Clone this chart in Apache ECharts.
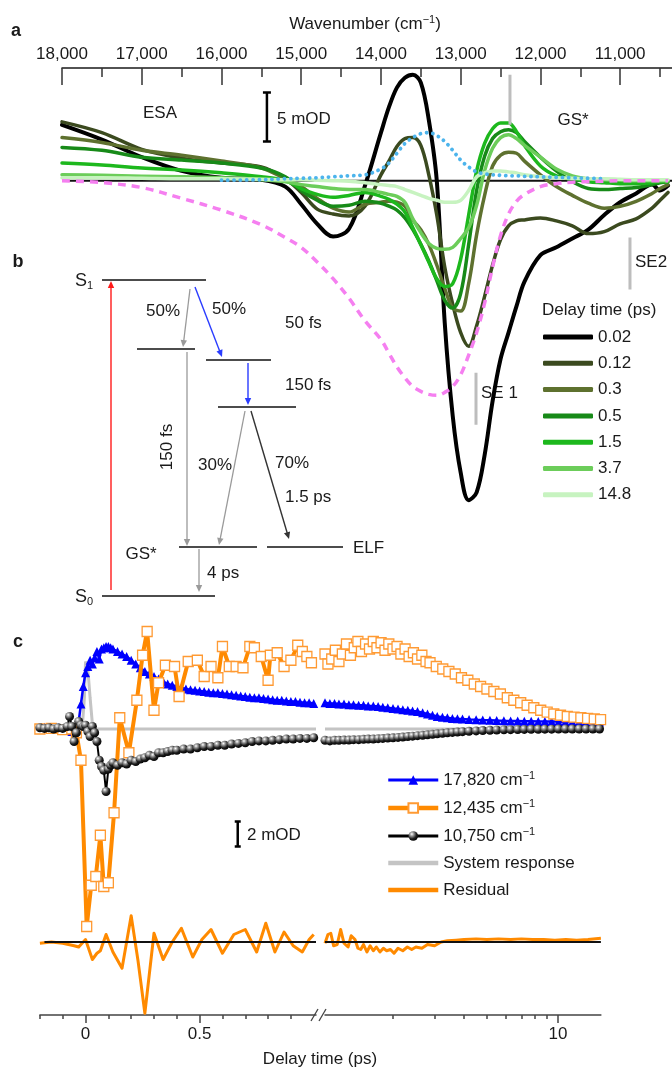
<!DOCTYPE html>
<html>
<head>
<meta charset="utf-8">
<script src="https://cdn.jsdelivr.net/npm/echarts@6/dist/echarts.min.js"></script>
<style>
html,body{margin:0;padding:0;background:#fff}
#chart{width:672px;height:1071px}
</style>
</head>
<body>
<div id="chart"></div>
<script>
// ---------- Panel a: transient spectra vs wavenumber (mOD) ----------
const wavenumbers = [18000,17500,17000,16500,16000,15500,15200,15000,14800,14600,14400,14200,14000,13900,13800,13700,13600,13500,13400,13300,13200,13100,13000,12900,12800,12700,12600,12500,12400,12300,12200,12000,11800,11600,11400,11200,11000,10800,10600,10500,10400];
const delayLabels = ['0.02','0.12','0.3','0.5','1.5','3.7','14.8'];
const spec002 = [5.7,4.2,2.4,1.0,0.3,0.1,-0.6,-2.4,-4.4,-5.7,-4.9,-0.5,4.9,7.5,9.5,10.5,10.8,10.0,6.2,0.0,-14.5,-24.0,-29.8,-32.6,-31.8,-28.0,-22.5,-18.2,-15.5,-12.8,-10.3,-7.6,-6.8,-5.9,-5.0,-3.5,-2.2,-1.3,-0.4,-1.0,-0.5];
const spec012 = [6.0,4.9,3.2,2.3,1.8,1.4,0.2,-1.2,-2.9,-3.4,-3.6,-2.6,0.6,2.0,3.5,4.3,4.4,3.6,0.6,-3.5,-8.8,-12.6,-15.5,-16.9,-14.8,-11.8,-8.6,-6.0,-4.6,-4.1,-4.0,-3.8,-4.1,-4.6,-5.4,-5.2,-4.4,-3.9,-2.8,-2.0,-1.2];
const spec03 = [4.4,3.9,3.1,2.6,2.0,1.3,0.2,-0.6,-1.8,-2.8,-3.2,-2.4,-2.2,-2.1,-2.2,-2.6,-4.0,-5.0,-6.5,-8.6,-11.0,-13.0,-13.3,-10.5,-5.5,-1.5,1.5,2.6,2.9,2.8,2.0,0.6,-0.6,-1.5,-2.3,-2.8,-2.6,-2.1,-1.3,-0.8,-0.4];
const spec05 = [3.4,3.1,2.4,2.1,1.8,1.3,0.4,-1.0,-2.0,-2.6,-2.5,-2.1,-2.3,-2.6,-3.0,-3.8,-5.0,-6.5,-8.2,-10.2,-12.2,-13.0,-11.5,-6.5,-1.0,2.5,4.3,5.0,5.2,4.9,4.0,2.4,1.0,-0.1,-0.8,-0.9,-0.8,-0.7,-0.4,-0.2,-0.1];
const spec15 = [1.8,1.6,1.3,1.1,0.8,0.4,0.0,-0.8,-1.4,-1.7,-1.5,-1.2,-1.6,-1.9,-2.4,-3.2,-4.8,-6.5,-8.3,-10.0,-10.8,-10.5,-8.0,-3.5,1.0,3.8,5.3,5.9,5.9,5.0,3.6,1.5,0.5,0.2,-0.1,-0.2,-0.3,-0.3,-0.2,-0.1,-0.1];
const spec37 = [0.6,0.55,0.45,0.4,0.3,0.1,-0.1,-0.4,-0.6,-0.8,-0.9,-0.9,-1.2,-1.4,-1.6,-2.2,-3.9,-5.3,-6.4,-6.9,-7.0,-6.8,-5.9,-4.8,-2.5,1.0,3.3,4.4,4.7,4.3,3.6,2.4,1.2,0.5,0.2,0.1,0.05,0.0,0.0,0.0,0.0];
const spec148 = [0.3,0.3,0.25,0.2,0.2,0.15,0.1,0.1,0.05,0.0,-0.05,-0.2,-0.4,-0.5,-0.6,-0.9,-1.2,-1.5,-1.8,-2.0,-2.2,-2.2,-2.0,-1.0,0.4,0.8,1.0,1.0,0.9,0.8,0.6,0.4,0.3,0.25,0.2,0.2,0.15,0.1,0.1,0.1,0.1];
const blueRef = [null,null,null,null,0.05,0.1,0.2,0.25,0.3,0.4,0.5,0.6,1.2,1.8,2.8,3.8,4.4,4.8,4.9,4.6,4.0,3.1,2.1,1.4,0.9,0.7,0.6,0.55,0.5,0.5,0.45,0.4,0.35,0.3,0.25,0.2,null,null,null,null,null];
const pinkRef = [0.0,-0.2,-0.7,-1.8,-3.0,-4.5,-5.8,-6.8,-8.3,-10.0,-12.0,-14.3,-16.2,-17.6,-19.0,-20.1,-21.0,-21.5,-21.8,-21.9,-21.6,-21.0,-19.8,-17.8,-15.5,-12.5,-8.8,-5.6,-3.4,-2.1,-1.4,-0.6,-0.3,-0.15,-0.1,-0.05,0.0,0.0,0.0,0.0,0.0];
const majorWn = [11000,12000,13000,14000,15000,16000,17000,18000];
const minorWn = [10500,11500,12500,13500,14500,15500,16500,17500];
// band markers: wavenumber and vertical extent (mOD)
const bandWn = [12382, 12808, 10877];
const bandLo = [5.7, -24.9, -11.1];
const bandHi = [10.8, -19.6, -5.8];
// 5 mOD scale bar
const scaleA = {wn: 15430, from: 4, to: 9};

// ---------- Panel c: kinetic traces (mOD) vs delay (ps) ----------
const blueTL = [-0.2,-0.18,-0.16,-0.14,-0.12,-0.1,-0.08,-0.06,-0.04,-0.03,-0.02,-0.01,0,0.01,0.02,0.03,0.04,0.05,0.06,0.07,0.08,0.09,0.1,0.11,0.12,0.14,0.16,0.18,0.2,0.22,0.24,0.26,0.28,0.3,0.32,0.34,0.36,0.38,0.4,0.42,0.44,0.46,0.48,0.5,0.52,0.54,0.56,0.58,0.6,0.62,0.64,0.66,0.68,0.7,0.72,0.74,0.76,0.78,0.8,0.82,0.84,0.86,0.88,0.9,0.92,0.94,0.96,0.98,1.0];
const blueVL = [0.1,0.15,0.1,0.05,0.1,0.0,-0.1,-0.2,-0.1,0.6,2.0,3.4,4.5,5.0,5.5,5.2,5.7,6.2,5.6,6.4,6.5,6.6,6.6,6.5,6.4,6.2,6.0,5.8,5.5,5.2,4.9,4.6,4.4,4.2,4.0,3.8,3.6,3.5,3.4,3.3,3.2,3.15,3.1,3.05,3.0,2.95,2.9,2.9,2.85,2.8,2.75,2.7,2.65,2.6,2.55,2.5,2.5,2.45,2.4,2.35,2.3,2.3,2.25,2.2,2.2,2.15,2.1,2.1,2.05];
const lateT = [1.03,1.08,1.13,1.18,1.24,1.3,1.36,1.43,1.5,1.57,1.65,1.73,1.81,1.9,2.0,2.1,2.2,2.31,2.42,2.54,2.67,2.8,2.94,3.08,3.24,3.4,3.57,3.75,3.94,4.2,4.5,4.8,5.15,5.5,5.9,6.3,6.75,7.2,7.7,8.25,8.8,9.4,10.05,10.75,11.5,12.3,13.15,14.05,15.0];
const blueVR = [2.1,2.05,2.05,2.0,2.0,1.95,1.95,1.9,1.9,1.85,1.85,1.8,1.75,1.7,1.65,1.6,1.55,1.5,1.45,1.4,1.3,1.2,1.1,1.0,0.95,0.9,0.85,0.82,0.8,0.77,0.74,0.72,0.7,0.68,0.66,0.65,0.64,0.63,0.62,0.61,0.6,0.6,0.59,0.59,0.58,0.58,0.58,0.57,0.57];
const blackTL = [-0.2,-0.18,-0.16,-0.14,-0.12,-0.1,-0.08,-0.07,-0.06,-0.05,-0.04,-0.03,-0.02,-0.01,0,0.01,0.02,0.03,0.04,0.05,0.06,0.07,0.08,0.09,0.1,0.11,0.12,0.14,0.16,0.18,0.2,0.22,0.24,0.26,0.28,0.3,0.32,0.34,0.36,0.38,0.4,0.43,0.46,0.49,0.52,0.55,0.58,0.61,0.64,0.67,0.7,0.73,0.76,0.79,0.82,0.85,0.88,0.91,0.94,0.97,1.0];
const blackVL = [0.1,0.05,0.1,0.0,0.1,0.05,0.2,1.0,0.2,-1.0,-0.3,0.6,0.3,0.2,0.3,-0.2,-0.6,0.2,-0.3,-1.0,-2.5,-3.0,-3.3,-5.0,-3.2,-2.9,-2.7,-2.9,-2.7,-2.8,-2.5,-2.6,-2.4,-2.3,-2.1,-2.2,-1.9,-1.9,-1.8,-1.7,-1.7,-1.6,-1.6,-1.5,-1.4,-1.4,-1.3,-1.3,-1.2,-1.15,-1.1,-1.0,-0.95,-0.95,-0.9,-0.85,-0.8,-0.8,-0.75,-0.75,-0.7];
const blackVR = [-0.9,-0.95,-0.9,-0.9,-0.88,-0.88,-0.85,-0.85,-0.82,-0.8,-0.8,-0.77,-0.75,-0.72,-0.7,-0.67,-0.64,-0.6,-0.57,-0.53,-0.5,-0.46,-0.42,-0.38,-0.34,-0.3,-0.27,-0.24,-0.21,-0.18,-0.15,-0.12,-0.1,-0.08,-0.06,-0.05,-0.04,-0.03,-0.02,-0.02,-0.01,-0.01,0,0,0,0,0,0,0];
const orangeTL = [-0.2,-0.15,-0.1,-0.06,-0.04,-0.02,0.005,0.025,0.045,0.065,0.08,0.1,0.125,0.15,0.19,0.225,0.25,0.27,0.3,0.32,0.35,0.39,0.41,0.45,0.49,0.52,0.55,0.58,0.6,0.63,0.66,0.69,0.72,0.74,0.77,0.8,0.81,0.84,0.87,0.9,0.93,0.95,0.97,0.99];
const orangeVL = [0.0,0.05,-0.05,0.0,-0.3,-2.5,-15.8,-12.5,-11.8,-8.5,-12.6,-12.3,-6.7,0.9,-1.9,2.3,5.9,7.8,1.5,3.7,5.1,5.0,2.6,5.4,5.5,4.2,5.0,4.1,6.6,5.0,5.0,4.9,6.6,6.5,5.8,3.9,5.9,6.1,5.0,5.5,6.7,6.2,5.8,5.3];
const orangeTR = [1.03,1.06,1.1,1.14,1.18,1.22,1.27,1.32,1.37,1.42,1.47,1.53,1.59,1.65,1.71,1.78,1.85,1.92,2.0,2.08,2.16,2.25,2.34,2.44,2.54,2.65,2.76,2.87,3.05,3.25,3.45,3.67,3.9,4.15,4.42,4.7,5.0,5.35,5.7,6.1,6.5,6.95,7.4,7.9,8.45,9.0,9.6,10.25,10.95,11.7,12.5,13.35,14.25,15.15];
const orangeVR = [6.0,5.2,5.6,6.3,5.4,6.0,6.8,5.9,6.5,7.0,6.2,6.8,6.4,7.0,6.5,6.9,6.3,6.8,6.4,6.6,6.0,6.4,5.8,6.1,5.6,5.9,5.4,5.3,5.0,4.8,4.6,4.4,4.1,3.9,3.6,3.4,3.2,3.0,2.8,2.5,2.3,2.1,1.9,1.7,1.5,1.35,1.2,1.1,1.0,0.95,0.9,0.85,0.8,0.75];
const sysTL = [-0.2,-0.015,-0.005,0.0,0.01,0.02,0.03,0.04,1.01];
const sysVL = [0,0,2.5,5.4,4.8,2.5,0.4,0,0];
const sysTR = [1.03,15.2];
const sysVR = [0,0];
const resTL = [-0.2,-0.15,-0.1,-0.05,-0.03,0.0,0.015,0.03,0.05,0.065,0.09,0.12,0.16,0.2,0.23,0.26,0.3,0.34,0.38,0.42,0.47,0.51,0.55,0.6,0.65,0.7,0.75,0.79,0.83,0.87,0.91,0.95,0.98,1.0];
const resVL = [-0.1,0.0,-0.1,-0.3,-0.4,0.2,-0.6,-1.4,-0.9,-0.7,0.6,-0.8,-2.1,2.1,-1.5,-5.7,0.7,-1.4,0.0,1.1,-1.2,0.2,1.0,-0.9,0.6,1.0,-0.8,1.5,-0.8,0.8,-0.3,-0.8,0.2,0.6];
const resTR = [1.03,1.06,1.09,1.12,1.16,1.2,1.24,1.29,1.33,1.38,1.42,1.46,1.5,1.55,1.6,1.65,1.7,1.76,1.82,1.88,1.95,2.02,2.1,2.2,2.3,2.4,2.5,2.65,2.8,3.0,3.2,3.4,3.7,4.0,4.5,5.0,5.6,6.3,7.0,7.8,8.7,9.7,10.8,12.0,13.4,15.2];
const resVR = [-0.1,0.6,0.7,-0.3,-0.2,1.0,-0.1,-0.4,0.5,0.2,-0.5,-0.6,-0.2,-0.8,-0.3,-0.7,-0.4,-0.8,-0.5,-0.7,-0.6,-0.9,-0.5,-0.7,-0.4,-0.6,-0.4,-0.5,-0.2,-0.3,0.0,0.1,0.15,0.2,0.25,0.2,0.25,0.2,0.25,0.2,0.2,0.15,0.2,0.15,0.2,0.3];
const earlyTicks = [-0.2,-0.1,0.1,0.2,0.3,0.4,0.6,0.7,0.8,0.9];
const earlyLabels = [0, 0.5];
const lateTicks = [2,3,4,5,6,7,8,9];
const lateLabels = [10];
// 2 mOD scale bar
const scaleC = {t: 0.667, from: -9.4, to: -7.4};
const traceNames = ['17,820 cm', '12,435 cm', '10,750 cm', 'System response', 'Residual'];

// ---------- helpers ----------
const FONT = '"Liberation Sans", Arial, Helvetica, sans-serif';
const FS = 17;
const INK = '#1a1a1a';
const pair = (xs, ys) => xs.map((x, i) => [x, ys[i]]).filter(p => p[1] !== null && p[1] !== undefined);
const fmtThousands = v => String(v).replace(/\B(?=(\d{3})+(?!\d))/g, ',');

const specValues = [spec002, spec012, spec03, spec05, spec15, spec37, spec148];
const specColors = ['#000000', '#3b4a1f', '#5e712f', '#178a18', '#1db81d', '#6ccd5a', '#c7f3c0'];

const series = [];
// zero line of panel a
series.push({type: 'line', xAxisIndex: 0, yAxisIndex: 0, silent: true, symbol: 'none', z: 1,
  data: [[18000, 0], [10350, 0]], lineStyle: {color: '#111', width: 2}});
delayLabels.forEach((name, i) => {
  series.push({
    name, type: 'line', xAxisIndex: 0, yAxisIndex: 0, symbol: 'none', smooth: 0.35,
    color: specColors[i], z: 2 + i,
    data: pair(wavenumbers, specValues[i]),
    lineStyle: {color: specColors[i], width: i === 0 ? 4 : 3.5, cap: 'round', join: 'round'},
    itemStyle: {color: specColors[i]}
  });
});
series.push({type: 'line', xAxisIndex: 0, yAxisIndex: 0, symbol: 'none', smooth: 0.35, z: 10,
  data: pair(wavenumbers, blueRef),
  lineStyle: {color: '#4cb4ec', width: 3.8, type: [0.1, 6.2], cap: 'round'}});
series.push({type: 'line', xAxisIndex: 0, yAxisIndex: 0, symbol: 'none', smooth: 0.35, z: 11,
  data: pair(wavenumbers, pinkRef),
  lineStyle: {color: '#f57ff0', width: 3.5, type: [8, 6], cap: 'butt'}});
bandWn.forEach((w, i) => {
  series.push({type: 'line', xAxisIndex: 0, yAxisIndex: 0, symbol: 'none', z: 12, silent: true,
    data: [[w, bandLo[i]], [w, bandHi[i]]], lineStyle: {color: '#bdbdbd', width: 3}});
});
series.push({type: 'line', xAxisIndex: 0, yAxisIndex: 0, z: 12, silent: true,
  data: [[scaleA.wn, scaleA.from], [scaleA.wn, scaleA.to]],
  symbol: 'rect', symbolSize: [8, 2.5], itemStyle: {color: '#000'},
  lineStyle: {color: '#000', width: 2.5}});

// panel c series
const sphere = {type: 'radial', x: 0.35, y: 0.3, r: 0.75,
  colorStops: [{offset: 0, color: '#ffffff'}, {offset: 0.25, color: '#a0a0a0'}, {offset: 0.65, color: '#1e1e1e'}, {offset: 1, color: '#000'}]};
// system response
series.push({name: traceNames[3], type: 'line', xAxisIndex: 2, yAxisIndex: 1, symbol: 'none', z: 2,
  data: pair(sysTL, sysVL), color: '#c4c4c4', lineStyle: {color: '#c4c4c4', width: 3}});
series.push({name: traceNames[3], type: 'line', xAxisIndex: 3, yAxisIndex: 2, symbol: 'none', z: 2,
  data: pair(sysTR, sysVR), color: '#c4c4c4', lineStyle: {color: '#c4c4c4', width: 3}});
// 17,820
const blueStyle = {type: 'line', symbol: 'triangle', symbolSize: 9, z: 3, color: '#0000ff',
  itemStyle: {color: '#0000ff'}, lineStyle: {color: '#0000ff', width: 2.5}};
series.push(Object.assign({name: traceNames[0], xAxisIndex: 2, yAxisIndex: 1, data: pair(blueTL, blueVL)}, blueStyle));
series.push(Object.assign({name: traceNames[0], xAxisIndex: 3, yAxisIndex: 2, data: pair(lateT, blueVR)}, blueStyle));
// 12,435
series.push({name: traceNames[1], type: 'line', xAxisIndex: 2, yAxisIndex: 1, z: 4,
  data: pair(orangeTL, orangeVL), symbol: 'rect', symbolSize: 10, color: '#ff8a00',
  itemStyle: {color: '#ffffff', borderColor: '#ff9a33', borderWidth: 1.3},
  lineStyle: {color: '#ff8a00', width: 4}});
series.push({name: traceNames[1], type: 'line', xAxisIndex: 3, yAxisIndex: 2, z: 4,
  data: pair(orangeTR, orangeVR), symbol: 'rect', symbolSize: 10, color: '#ff8a00',
  itemStyle: {color: '#ffffff', borderColor: '#ff9a33', borderWidth: 1.3},
  lineStyle: {color: '#ff8a00', width: 1.5}});
// 10,750
const blackStyle = {type: 'line', symbol: 'circle', symbolSize: 9, z: 5, color: '#000',
  itemStyle: {color: sphere}, lineStyle: {color: '#000', width: 2}};
series.push(Object.assign({name: traceNames[2], xAxisIndex: 2, yAxisIndex: 1, data: pair(blackTL, blackVL)}, blackStyle));
series.push(Object.assign({name: traceNames[2], xAxisIndex: 3, yAxisIndex: 2, data: pair(lateT, blackVR)}, blackStyle));
// residual
series.push({name: traceNames[4], type: 'line', xAxisIndex: 4, yAxisIndex: 3, symbol: 'none', z: 3,
  data: pair(resTL, resVL), color: '#ff8a00', lineStyle: {color: '#ff8a00', width: 3, join: 'round'}});
series.push({name: traceNames[4], type: 'line', xAxisIndex: 6, yAxisIndex: 4, symbol: 'none', z: 3,
  data: pair(resTR, resVR), color: '#ff8a00', lineStyle: {color: '#ff8a00', width: 3, join: 'round'}});
series.push({type: 'line', xAxisIndex: 4, yAxisIndex: 3, symbol: 'none', z: 4, silent: true,
  data: [[-0.18, 0], [1.01, 0]], lineStyle: {color: '#111', width: 2}});
series.push({type: 'line', xAxisIndex: 6, yAxisIndex: 4, symbol: 'none', z: 4, silent: true,
  data: [[1.03, 0], [15.2, 0]], lineStyle: {color: '#111', width: 2}});
// 2 mOD bar
series.push({type: 'line', xAxisIndex: 2, yAxisIndex: 1, z: 6, silent: true,
  data: [[scaleC.t, scaleC.from], [scaleC.t, scaleC.to]],
  symbol: 'rect', symbolSize: [6, 2.5], itemStyle: {color: '#000'},
  lineStyle: {color: '#000', width: 2.5}});

// ---------- axes ----------
const hiddenX = (grid, extra) => Object.assign({gridIndex: grid, show: false, axisLine: {onZero: false}}, extra);
const tickLine = {color: '#444', width: 1.5};
const xAxis = [
  {gridIndex: 0, type: 'value', position: 'top', inverse: true, min: 10350, max: 18000,
    axisLine: {show: true, onZero: false, lineStyle: {color: INK, width: 1.5}},
    axisTick: {show: true, inside: true, length: 17, customValues: majorWn, lineStyle: {color: '#333', width: 1.5}},
    axisLabel: {show: true, customValues: majorWn, formatter: fmtThousands, fontSize: FS, color: INK, fontFamily: FONT, margin: 5},
    splitLine: {show: false}},
  {gridIndex: 0, type: 'value', position: 'top', inverse: true, min: 10350, max: 18000,
    axisLine: {show: false, onZero: false},
    axisTick: {show: true, inside: true, length: 9, customValues: minorWn, lineStyle: {color: '#333', width: 1.5}},
    axisLabel: {show: false}, splitLine: {show: false}},
  hiddenX(1, {type: 'value', min: -0.2, max: 1.01}),
  hiddenX(2, {type: 'log', logBase: 10, min: 1.03, max: 15.2}),
  {gridIndex: 3, type: 'value', position: 'bottom', min: -0.2, max: 1.01,
    axisLine: {show: true, onZero: false, lineStyle: tickLine},
    axisTick: {show: true, length: 4, customValues: earlyTicks, lineStyle: tickLine},
    axisLabel: {show: false}, splitLine: {show: false}},
  {gridIndex: 3, type: 'value', position: 'bottom', min: -0.2, max: 1.01,
    axisLine: {show: false, onZero: false},
    axisTick: {show: true, length: 8, customValues: earlyLabels, lineStyle: tickLine},
    axisLabel: {show: true, customValues: earlyLabels, fontSize: FS, color: INK, fontFamily: FONT, margin: 11},
    splitLine: {show: false}},
  {gridIndex: 4, type: 'log', logBase: 10, position: 'bottom', min: 1.03, max: 15.2,
    axisLine: {show: true, onZero: false, lineStyle: tickLine},
    axisTick: {show: true, length: 4, customValues: lateTicks, lineStyle: tickLine},
    axisLabel: {show: false}, splitLine: {show: false}, minorTick: {show: false}},
  {gridIndex: 4, type: 'log', logBase: 10, position: 'bottom', min: 1.03, max: 15.2,
    axisLine: {show: false, onZero: false},
    axisTick: {show: true, length: 8, customValues: lateLabels, lineStyle: tickLine},
    axisLabel: {show: true, customValues: lateLabels, fontSize: FS, color: INK, fontFamily: FONT, margin: 11},
    splitLine: {show: false}}
];
const yAxis = [
  {gridIndex: 0, type: 'value', min: -35, max: 11.5, show: false},
  {gridIndex: 1, type: 'value', min: -17.2, max: 8.8, show: false},
  {gridIndex: 2, type: 'value', min: -17.2, max: 8.8, show: false},
  {gridIndex: 3, type: 'value', min: -5.84, max: 4.0, show: false},
  {gridIndex: 4, type: 'value', min: -5.84, max: 4.0, show: false}
];
const grid = [
  {left: 62, top: 68, width: 610, height: 455.7},
  {left: 39.9, top: 619, width: 276.1, height: 325},
  {left: 325, top: 619, width: 275.9, height: 325},
  {left: 39.9, top: 892, width: 276.1, height: 123},
  {left: 325, top: 892, width: 275.9, height: 123}
].map(g => Object.assign({outerBoundsMode: 'none', containLabel: false}, g));

// ---------- annotations and energy diagram (panel b) ----------
const txt = (text, x, y, opts) => ({type: 'text', x, y, silent: true, rotation: (opts && opts.rotation) || 0,
  style: Object.assign({text, x: 0, y: 0, fill: INK, fontSize: FS, fontFamily: FONT, align: 'center', verticalAlign: 'middle'}, opts && opts.style)});
const seg = (x1, y1, x2, y2, color, w) => ({type: 'line', silent: true,
  shape: {x1, y1, x2, y2}, style: {stroke: color, lineWidth: w || 1.3}});
function arrow(x1, y1, x2, y2, color, w) {
  const dx = x2 - x1, dy = y2 - y1, L = Math.hypot(dx, dy), ux = dx / L, uy = dy / L;
  const hl = 7, hw = 3.2, bx = x2 - ux * hl, by = y2 - uy * hl;
  return [
    seg(x1, y1, bx + ux * 1, by + uy * 1, color, w),
    {type: 'polygon', silent: true, shape: {points: [[x2, y2], [bx - uy * hw, by + ux * hw], [bx + uy * hw, by - ux * hw]]}, style: {fill: color}}
  ];
}
const supRich = {
  t: {fontSize: FS, fontFamily: FONT, fill: INK, color: INK},
  s: {fontSize: 11, fontFamily: FONT, fill: INK, color: INK, padding: [0, 0, 9, 0]},
  b: {fontSize: 11, fontFamily: FONT, fill: INK, color: INK, padding: [9, 0, 0, 0]},
  m: {fontSize: 18, fontFamily: FONT, fill: INK, color: INK}
};
const GREY = '#9a9a9a', BLUE = '#2a3cff';
const graphic = [].concat(
  // panel letters
  txt('a', 16, 31, {style: {fontWeight: 'bold', fontSize: 18}}),
  txt('b', 18, 262, {style: {fontWeight: 'bold', fontSize: 18}}),
  txt('c', 18, 642, {style: {fontWeight: 'bold', fontSize: 18}}),
  // panel a texts
  txt('{t|Wavenumber (cm}{s|−1}{t|)}', 365, 24, {style: {rich: supRich}}),
  txt('ESA', 160, 113),
  txt('5 mOD', 277, 119, {style: {align: 'left'}}),
  txt('GS*', 573, 120),
  txt('SE2', 635, 262, {style: {align: 'left'}}),
  txt('SE 1', 481, 393, {style: {align: 'left', backgroundColor: '#fff', padding: [2, 3, 2, 0]}}),
  txt('Delay time (ps)', 542, 310, {style: {align: 'left'}}),
  // panel b: levels
  seg(102, 280, 206, 280, '#111'),
  seg(137, 349, 195, 349, '#111'),
  seg(206, 360, 271, 360, '#111'),
  seg(218, 407, 296, 407, '#111'),
  seg(179, 547, 257, 547, '#111'),
  seg(267, 547, 343, 547, '#111'),
  seg(102, 596, 215, 596, '#111'),
  // panel b: transitions
  arrow(111, 590, 111, 281, '#ff1a1a', 1.4),
  arrow(190, 289, 183, 347, GREY, 1.3),
  arrow(195, 287, 222, 357, BLUE, 1.4),
  arrow(248, 363, 248, 405, BLUE, 1.4),
  arrow(187, 352, 187, 546, GREY, 1.3),
  arrow(245, 411, 219, 545, GREY, 1.3),
  arrow(251, 411, 289, 539, '#333', 1.4),
  arrow(199, 549, 199, 592, GREY, 1.3),
  // panel b: labels
  txt('{m|S}{b|1}', 84, 281, {style: {rich: supRich}}),
  txt('{m|S}{b|0}', 84, 597, {style: {rich: supRich}}),
  txt('50%', 163, 311),
  txt('50%', 229, 309),
  txt('50 fs', 285, 323, {style: {align: 'left'}}),
  txt('150 fs', 285, 385, {style: {align: 'left'}}),
  txt('150 fs', 167, 447, {rotation: Math.PI / 2}),
  txt('30%', 215, 465),
  txt('70%', 292, 463),
  txt('1.5 ps', 285, 497, {style: {align: 'left'}}),
  txt('GS*', 141, 554),
  txt('ELF', 353, 548, {style: {align: 'left'}}),
  txt('4 ps', 207, 573, {style: {align: 'left'}}),
  // panel c texts
  txt('2 mOD', 247, 835, {style: {align: 'left'}}),
  txt('Delay time (ps)', 320, 1059),
  // axis break marks
  seg(311, 1021, 318, 1009, '#444', 1.3),
  seg(319, 1021, 326, 1009, '#444', 1.3)
);

// legend entries for panel c: thick sample lines, symbol hidden for plain lines
const traceLegend = traceNames.map((n, i) => {
  const item = {name: n, lineStyle: {width: i === 0 ? 3 : (i === 2 ? 3 : 4.5)}};
  if (i >= 3) item.itemStyle = {opacity: 0};
  return item;
});

const option = {
  animation: false,
  backgroundColor: '#fff',
  textStyle: {fontFamily: FONT},
  grid, xAxis, yAxis, series, graphic,
  legend: [
    {data: delayLabels, orient: 'vertical', left: 543, top: 328, padding: 0, selectedMode: false,
      icon: 'roundRect', itemWidth: 50, itemHeight: 5, itemGap: 8.3,
      textStyle: {fontSize: FS, color: INK, fontFamily: FONT, lineHeight: 18}},
    {data: traceLegend, orient: 'vertical', left: 386, top: 770, padding: 0, selectedMode: false,
      itemWidth: 50, itemHeight: 12, itemGap: 9,
      formatter: n => n.endsWith(' cm') ? `{t|${n}}{s|−1}` : `{t|${n}}`,
      textStyle: {fontSize: FS, color: INK, fontFamily: FONT, lineHeight: 18, rich: supRich}}
  ]
};

const chart = echarts.init(document.getElementById('chart'), null, {renderer: 'canvas', width: 672, height: 1071});
chart.setOption(option);
</script>
</body>
</html>
